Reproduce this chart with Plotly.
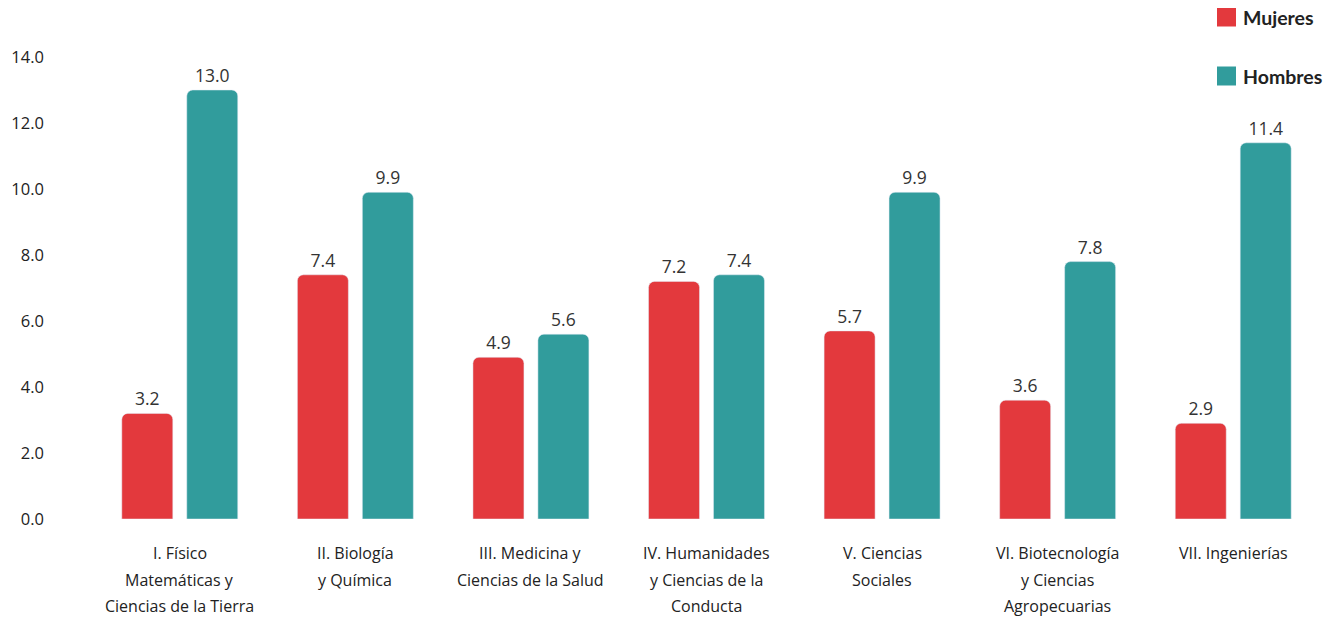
import plotly.graph_objects as go

categories = ["I", "II", "III", "IV", "V", "VI", "VII"]
category_labels = [
    ["I. Físico", "Matemáticas y", "Ciencias de la Tierra"],
    ["II. Biología", "y Química"],
    ["III. Medicina y", "Ciencias de la Salud"],
    ["IV. Humanidades", "y Ciencias de la", "Conducta"],
    ["V. Ciencias", "Sociales"],
    ["VI. Biotecnología", "y Ciencias", "Agropecuarias"],
    ["VII. Ingenierías"],
]
mujeres = [3.2, 7.4, 4.9, 7.2, 5.7, 3.6, 2.9]
hombres = [13.0, 9.9, 5.6, 7.4, 9.9, 7.8, 11.4]
y_ticks = [0, 2, 4, 6, 8, 10, 12, 14]
legend_names = ["Mujeres", "Hombres"]

RED = "#E3393D"
TEAL = "#319C9C"
FONT = "Open Sans"

# page body has an 8px margin: work in screen pixels, shift by OFF
OFF = 8
W, H = 1335 - OFF, 619 - OFF
L, R, T, B = 92 - OFF, 14, 57 - OFF, 100
PW, PH = W - L - R, H - T - B

fig = go.Figure()
fig.add_trace(go.Bar(x=categories, y=mujeres, name=legend_names[0], marker_color=RED,
                     texttemplate="%{y:.1f}", textposition="outside",
                     textfont=dict(size=17.5, color="#333333", family=FONT),
                     cliponaxis=False, showlegend=False))
fig.add_trace(go.Bar(x=categories, y=hombres, name=legend_names[1], marker_color=TEAL,
                     texttemplate="%{y:.1f}", textposition="outside",
                     textfont=dict(size=17.5, color="#333333", family=FONT),
                     cliponaxis=False, showlegend=False))


def px_x(p):
    return (p - OFF - L) / PW


def px_y(p):
    return (H - B - (p - OFF)) / PH


line_y = [553, 580, 606]
for cat, lines in zip(categories, category_labels):
    for i, ln in enumerate(lines):
        fig.add_annotation(x=cat, y=px_y(line_y[i]), xref="x", yref="paper",
                           text=ln, showarrow=False, yanchor="middle", xanchor="center",
                           font=dict(size=16, color="#222222", family=FONT))

for name, col, cy in zip(legend_names, [RED, TEAL], [17, 76]):
    fig.add_shape(type="rect", xref="paper", yref="paper",
                  x0=px_x(1217), x1=px_x(1236), y0=px_y(cy + 9.5), y1=px_y(cy - 9.5),
                  fillcolor=col, line=dict(width=0))
    fig.add_annotation(x=px_x(1241), y=px_y(cy), xref="paper", yref="paper",
                       text="<b>%s</b>" % name, showarrow=False,
                       xanchor="left", yanchor="middle",
                       font=dict(size=19.5, color="#222222", family="Lato"))

fig.update_layout(
    width=W, height=H,
    margin=dict(l=L, r=R, t=T, b=B, autoexpand=False),
    paper_bgcolor="white", plot_bgcolor="white",
    barmode="group", bargap=0.26, bargroupgap=0.215,
    barcornerradius=6,
    showlegend=False,
    font=dict(family=FONT, color="#222222"),
)
fig.update_xaxes(showticklabels=False, showgrid=False, zeroline=False, showline=False,
                 automargin=False)
fig.update_yaxes(range=[0, 14], tickvals=y_ticks, tickformat=".1f",
                 showgrid=False, zeroline=False, showline=False, automargin=False,
                 ticklabelstandoff=47,
                 tickfont=dict(size=16.5, color="#222222", family=FONT))

fig.write_html("out.html")
